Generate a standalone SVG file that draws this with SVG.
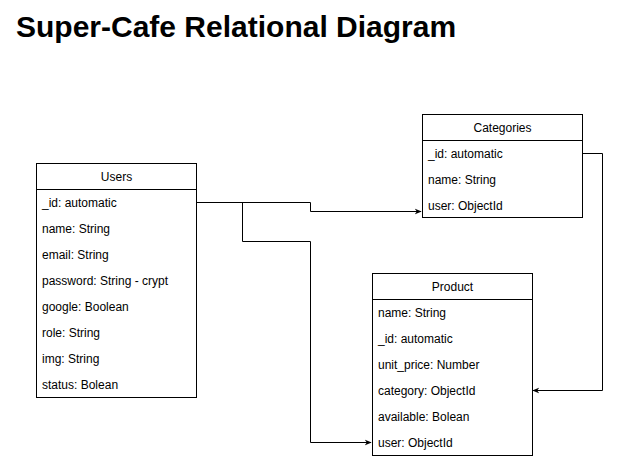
<svg xmlns="http://www.w3.org/2000/svg" width="617" height="463" viewBox="0 0 617 463">
<defs>
<style>
.box{fill:#fff;stroke:#000;stroke-width:1}
.t{font-family:"Liberation Sans",Arial,sans-serif;font-size:12px;fill:#000}
.h{text-anchor:middle}
.c{fill:none;stroke:#000;stroke-width:1}
.title{font-family:"Liberation Sans",Arial,sans-serif;font-size:30px;font-weight:bold;fill:#000}
</style>
<marker id="arr" viewBox="0 0 10 10" refX="9" refY="5" markerWidth="7" markerHeight="7" orient="auto" markerUnits="userSpaceOnUse">
<path d="M0,1 L10,5 L0,9 L3,5 Z" fill="#000"/>
</marker>
</defs>
<rect width="617" height="463" fill="#fff"/>
<text class="title" x="16" y="37">Super-Cafe Relational Diagram</text>

<g id="connectors">
<path class="c" d="M196.5,202.5 H310.5 V211.5 H421" marker-end="url(#arr)"/>
<path class="c" d="M242.5,202.5 V241.5 H310.5 V442.5 H371" marker-end="url(#arr)"/>
<path class="c" d="M582.5,153.5 H602.5 V390.5 H533" marker-end="url(#arr)"/>
</g>

<g id="users">
<rect class="box" x="36.5" y="163.5" width="160" height="234"/>
<line class="c" x1="36.5" y1="189.5" x2="196.5" y2="189.5"/>
<text class="t h" x="116.5" y="181">Users</text>
<text class="t" x="42" y="207">_id: automatic</text>
<text class="t" x="42" y="233">name: String</text>
<text class="t" x="42" y="259">email: String</text>
<text class="t" x="42" y="285">password: String - crypt</text>
<text class="t" x="42" y="311">google: Boolean</text>
<text class="t" x="42" y="337">role: String</text>
<text class="t" x="42" y="363">img: String</text>
<text class="t" x="42" y="389">status: Bolean</text>
</g>

<g id="categories">
<rect class="box" x="422.5" y="114.5" width="160" height="103"/>
<line class="c" x1="422.5" y1="140.5" x2="582.5" y2="140.5"/>
<text class="t h" x="502.5" y="132">Categories</text>
<text class="t" x="428" y="158">_id: automatic</text>
<text class="t" x="428" y="184">name: String</text>
<text class="t" x="428" y="210">user: ObjectId</text>
</g>

<g id="product">
<rect class="box" x="372.5" y="273.5" width="160" height="182"/>
<line class="c" x1="372.5" y1="299.5" x2="532.5" y2="299.5"/>
<text class="t h" x="452.5" y="291">Product</text>
<text class="t" x="378" y="317">name: String</text>
<text class="t" x="378" y="343">_id: automatic</text>
<text class="t" x="378" y="369">unit_price: Number</text>
<text class="t" x="378" y="395">category: ObjectId</text>
<text class="t" x="378" y="421">available: Bolean</text>
<text class="t" x="378" y="447">user: ObjectId</text>
</g>
</svg>
